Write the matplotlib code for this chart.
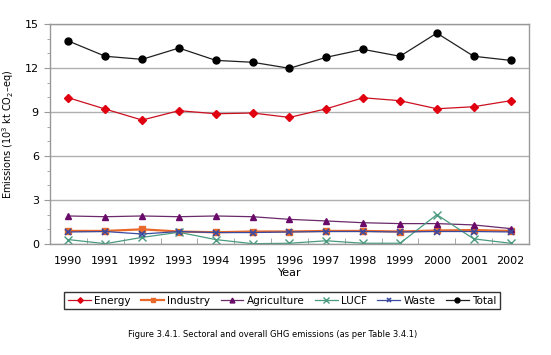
import matplotlib
matplotlib.use("Agg")
import matplotlib.pyplot as plt
from matplotlib.ticker import MultipleLocator

plt.rcParams['font.family'] = ['DejaVu Sans']

years = ['1990', '1991', '1992', '1993', '1994', '1995', '1996',
         '1997', '1998', '1999', '2000', '2001', '2002']

energy = [9.97, 9.20, 8.45, 9.09, 8.88, 8.93, 8.63, 9.22, 9.97, 9.77, 9.22, 9.36, 9.77]
industry = [0.89, 0.89, 1.00, 0.85, 0.80, 0.85, 0.85, 0.89, 0.89, 0.85, 0.92, 0.95, 0.89]
agriculture = [1.91, 1.86, 1.91, 1.86, 1.91, 1.86, 1.68, 1.57, 1.45, 1.39, 1.39, 1.30, 1.05]
lucf = [0.30, 0.02, 0.45, 0.80, 0.30, 0.02, 0.05, 0.22, 0.05, 0.05, 2.00, 0.35, 0.05]
waste = [0.82, 0.85, 0.68, 0.85, 0.78, 0.78, 0.82, 0.85, 0.85, 0.82, 0.85, 0.85, 0.82]
total = [13.84, 12.80, 12.59, 13.36, 12.52, 12.39, 11.98, 12.73, 13.27, 12.80, 14.38, 12.80, 12.52]

fig = plt.figure(figsize=(5.51, 3.55), dpi=100)
ax = fig.add_axes([0.0907, 0.3127, 0.8693, 0.6197])

x = range(len(years))
ax.plot(x, energy, color='#cc1020', marker='D', ms=4, lw=0.9, mfc='#e00010', mec='#e00010', label='Energy')
ax.plot(x, industry, color='#e8692a', marker='s', ms=4.5, lw=1.6, mfc='#e8692a', mec='#e8692a', label='Industry')
ax.plot(x, agriculture, color='#6a2a6a', marker='^', ms=5, lw=0.9, mfc='#6a0a6a', mec='#6a0a6a', label='Agriculture')
ax.plot(x, lucf, color='#4a9a80', marker='x', ms=6, lw=0.9, mew=1.0, label='LUCF')
ax.plot(x, waste, color='#3a4aa0', marker='x', ms=5, lw=0.9, mew=1.2, label='Waste')
ax.plot(x, total, color='#202020', marker='o', ms=5, lw=0.9, mfc='black', mec='black', label='Total')

ax.set_xlim(-0.5, len(years) - 0.5)
ax.set_ylim(0, 15)
ax.set_xticks(list(x))
ax.set_xticklabels(years, fontsize=8)
ax.tick_params(axis='x', length=0, pad=9)
ax.set_xticks([i + 0.5 for i in range(-1, len(years))], minor=True)
ax.tick_params(axis='x', which='minor', length=4, color='#999999', direction='in')
ax.yaxis.set_major_locator(MultipleLocator(3))
ax.yaxis.set_minor_locator(MultipleLocator(1))
ax.tick_params(axis='y', which='major', length=4, color='#999999', labelsize=8, pad=4)
ax.tick_params(axis='y', which='minor', length=2, color='#999999')
ax.grid(axis='y', which='major', color='#b0b0b0', lw=1.0)
ax.set_axisbelow(True)
for s in ax.spines.values():
    s.set_color('#999999')
    s.set_linewidth(1.0)

ax.set_xlabel('Year', fontsize=8, labelpad=1)
ax.set_ylabel('Emissions (10$^3$ kt CO$_2$–eq)', fontsize=7, labelpad=6)

fig.legend(loc='center', bbox_to_anchor=(0.512, 0.1535), ncol=6, fontsize=7.5,
           frameon=True, fancybox=False, edgecolor='#333333', framealpha=1,
           handlelength=2.2, columnspacing=1.0, handletextpad=0.3,
           borderpad=0.35, markerscale=0.7)

fig.text(0.494, 0.057, 'Figure 3.4.1. Sectoral and overall GHG emissions (as per Table 3.4.1)',
         ha='center', va='center', fontsize=6)

fig.savefig('out.png', dpi=100)
